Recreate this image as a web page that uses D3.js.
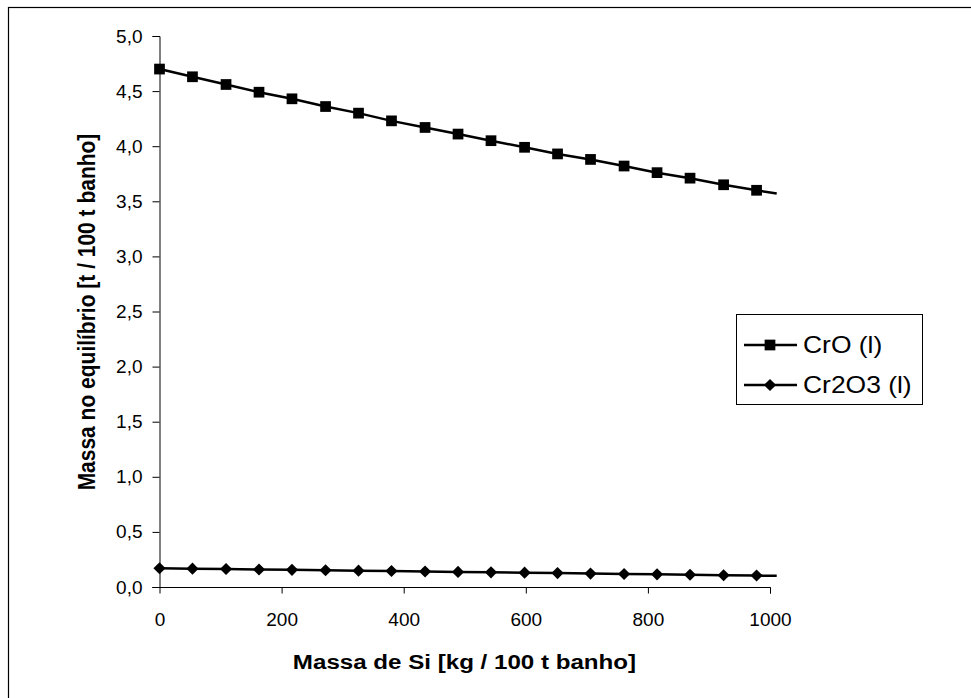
<!DOCTYPE html>
<html>
<head>
<meta charset="utf-8">
<script src="https://cdn.jsdelivr.net/npm/d3@7"></script>
<style>
  html, body { margin: 0; padding: 0; background: #fff; }
  svg { display: block; }
  text { font-family: "Liberation Sans", Arial, sans-serif; fill: #000; }
</style>
</head>
<body>
<svg id="chart" width="971" height="698"></svg>
<script>
// Silicon added [kg / 100 t bath]
const siMass = [0, 54, 109, 163, 217, 272, 326, 380, 435, 489, 543, 598, 652, 706, 761, 815, 869, 924, 978];
// Equilibrium mass [t / 100 t bath]
const crO   = [4.70, 4.63, 4.56, 4.49, 4.43, 4.36, 4.30, 4.23, 4.17, 4.11, 4.05, 3.99, 3.93, 3.88, 3.82, 3.76, 3.71, 3.65, 3.60];
const cr2O3 = [0.170, 0.166, 0.163, 0.159, 0.156, 0.152, 0.148, 0.145, 0.141, 0.137, 0.133, 0.130, 0.126, 0.122, 0.118, 0.115, 0.111, 0.107, 0.104];
// Where each curve continues past its last marker
const lineEnd = { si: 1011, crO: 3.57, cr2O3: 0.101 };

const xTicks = [0, 200, 400, 600, 800, 1000];
const yTicks = [0, 0.5, 1.0, 1.5, 2.0, 2.5, 3.0, 3.5, 4.0, 4.5, 5.0];
const seriesNames = ["CrO (l)", "Cr2O3 (l)"];
const xTitle = "Massa de Si [kg / 100 t banho]";
const yTitle = "Massa no equilíbrio [t / 100 t banho]";

const svg = d3.select("#chart");
const fmt = d => d.toFixed(1).replace(".", ",");
const stretch = 1.15; // text is drawn slightly widened horizontally

// outer chart frame
svg.append("rect")
  .attr("x", 8.5).attr("y", 7.5).attr("width", 1100).attr("height", 1100)
  .attr("fill", "#fff").attr("stroke", "#000").attr("stroke-width", 1.2);

const x = d3.scaleLinear().domain([0, 1000]).range([159.5, 770]);
const y = d3.scaleLinear().domain([0, 5]).range([587, 36]);

// y axis
const yAxis = svg.append("g")
  .attr("transform", "translate(159.5,0)")
  .call(d3.axisLeft(y).tickValues(yTicks).tickFormat(fmt).tickSize(7).tickPadding(10));
// x axis
const xAxis = svg.append("g")
  .attr("transform", "translate(0,587.5)")
  .call(d3.axisBottom(x).tickValues(xTicks).tickFormat(d3.format("d")).tickSize(6).tickPadding(19));
xAxis.select(".domain").attr("d", `M152.5,0H770.5V6`);

[yAxis, xAxis].forEach(g => {
  g.select(".domain").attr("stroke", "#000").attr("stroke-width", 1);
  g.selectAll(".tick line").attr("stroke", "#000");
  g.selectAll(".tick text")
    .style("font-family", "'Liberation Sans', Arial, sans-serif")
    .style("font-size", "19px").attr("fill", "#000");
});

// axis titles
svg.append("text")
  .attr("transform", `translate(464.5,669) scale(${stretch},1)`)
  .attr("text-anchor", "middle")
  .style("font-size", "21px").style("font-weight", "bold")
  .text(xTitle);
svg.append("text")
  .attr("transform", `translate(95,312) scale(${stretch},1) rotate(-90)`)
  .attr("text-anchor", "middle")
  .style("font-size", "21px").style("font-weight", "bold")
  .text(yTitle);

const line = d3.line().x(d => x(d[0])).y(d => y(d[1]));
const crOPts = siMass.map((s, i) => [s, crO[i]]);
const cr2O3Pts = siMass.map((s, i) => [s, cr2O3[i]]);

// marker shapes: filled square, and a square turned 45° for the diamond
const markers = {
  square:  { d: d3.symbol().type(d3.symbolSquare).size(115)(), rot: 0 },
  diamond: { d: d3.symbol().type(d3.symbolSquare).size(74)(), rot: 45 }
};

function drawSeries(pts, endVal, m) {
  svg.append("path")
    .datum(pts.concat([[lineEnd.si, endVal]]))
    .attr("d", line)
    .attr("fill", "none").attr("stroke", "#000").attr("stroke-width", 2.5);
  svg.append("g").selectAll("path")
    .data(pts).join("path")
    .attr("transform", d => `translate(${x(d[0])},${y(d[1])}) rotate(${m.rot})`)
    .attr("d", m.d)
    .attr("fill", "#000");
}
drawSeries(crOPts, lineEnd.crO, markers.square);
drawSeries(cr2O3Pts, lineEnd.cr2O3, markers.diamond);

// legend
const lg = svg.append("g");
lg.append("rect")
  .attr("x", 736.5).attr("y", 314.5).attr("width", 186).attr("height", 90)
  .attr("fill", "#fff").attr("stroke", "#000").attr("stroke-width", 1);
const legendRows = [
  { name: seriesNames[0], m: markers.square, cy: 345 },
  { name: seriesNames[1], m: markers.diamond, cy: 385 }
];
legendRows.forEach(r => {
  lg.append("line").attr("x1", 744).attr("x2", 797).attr("y1", r.cy).attr("y2", r.cy)
    .attr("stroke", "#000").attr("stroke-width", 2.5);
  lg.append("path").attr("transform", `translate(770,${r.cy}) rotate(${r.m.rot})`)
    .attr("d", r.m.d).attr("fill", "#000");
  lg.append("text")
    .attr("transform", `translate(803,${r.cy}) scale(${stretch},1)`)
    .attr("dy", "0.35em")
    .style("font-size", "23px").text(r.name);
});
</script>
</body>
</html>
